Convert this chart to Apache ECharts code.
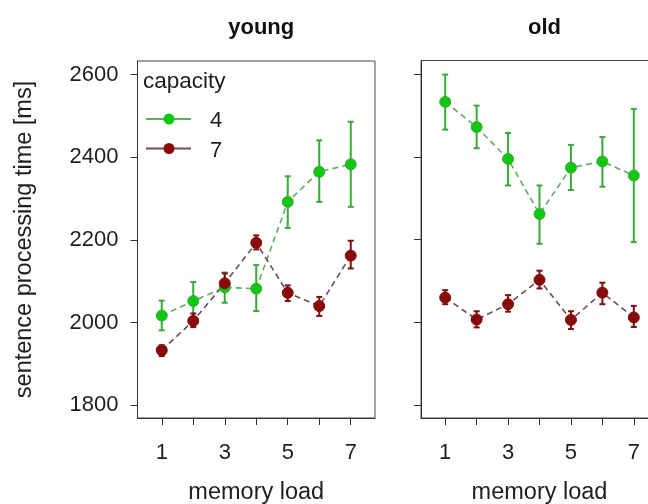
<!DOCTYPE html>
<html><head><meta charset="utf-8">
<script src="https://cdn.jsdelivr.net/npm/echarts@6/dist/echarts.min.js"></script>
<style>html,body{margin:0;padding:0;background:#fff}#c{width:648px;height:504px}</style>
</head><body><div id="c"></div>
<script>
const memoryLoad = [1, 2, 3, 4, 5, 6, 7];
const xTickLabels = [1, 3, 5, 7];
const yTicks = [1800, 2000, 2200, 2400, 2600];
const panels = ['young', 'old'];
const capacities = ['4', '7'];

const young4   = [2017, 2052, 2085, 2082, 2292, 2365, 2383];
const young4Lo = [1981, 2007, 2048, 2028, 2229, 2292, 2280];
const young4Hi = [2053, 2098, 2121, 2139, 2354, 2441, 2486];
const young7   = [1933, 2004, 2095, 2193, 2072, 2040, 2162];
const young7Lo = [1919, 1989, 2078, 2177, 2052, 2016, 2131];
const young7Hi = [1945, 2022, 2119, 2211, 2090, 2062, 2198];

const old4   = [2533, 2472, 2395, 2262, 2374, 2389, 2355];
const old4Lo = [2466, 2421, 2331, 2190, 2320, 2328, 2194];
const old4Hi = [2599, 2524, 2458, 2331, 2429, 2448, 2516];
const old7   = [2060, 2007, 2044, 2103, 2006, 2072, 2012];
const old7Lo = [2044, 1988, 2026, 2082, 1984, 2044, 1989];
const old7Hi = [2078, 2027, 2066, 2125, 2027, 2096, 2040];

const FONT = "'Liberation Sans', Arial, sans-serif";
const TXT = '#1e1e1e';
const colors = {
  '4': {marker: '#10c810', line: '#5fae5f', err: '#3aa83a'},
  '7': {marker: '#8a0a0a', line: '#6e4c56', err: '#7a1010'}
};

const chart = echarts.init(document.getElementById('c'), null, {renderer: 'canvas'});

const grids = [
  {left: 137.5, top: 61, width: 237.5, height: 357},
  {left: 421, top: 60.5, width: 237, height: 357.5}
];

function xAxis(i) {
  return {
    type: 'value', gridIndex: i, min: 0.23, max: 7.77,
    name: 'memory load', nameLocation: 'middle', nameGap: 63,
    nameTextStyle: {fontFamily: FONT, fontSize: 23.5, color: TXT},
    axisLine: {show: true, onZero: false, lineStyle: {color: '#333', width: 1}},
    axisTick: {show: true, inside: false, length: 7, customValues: memoryLoad, lineStyle: {color: '#333', width: 1}},
    axisLabel: {show: true, margin: 24, customValues: xTickLabels, fontFamily: FONT, fontSize: 22, color: TXT},
    splitLine: {show: false}
  };
}
function yAxis(i) {
  return {
    type: 'value', gridIndex: i, min: 1769, max: 2633,
    name: i === 0 ? 'sentence processing time [ms]' : '',
    nameLocation: 'middle', nameGap: 101,
    nameTextStyle: {fontFamily: FONT, fontSize: 23.5, color: TXT},
    axisLine: {show: true, onZero: false, lineStyle: {color: '#333', width: 1}},
    axisTick: {show: true, inside: false, length: 7, customValues: yTicks, lineStyle: {color: '#333', width: 1}},
    axisLabel: {show: i === 0, margin: 19, customValues: yTicks, fontFamily: FONT, fontSize: 22, color: TXT,
      formatter: v => String(v)},
    splitLine: {show: false}
  };
}

function pairs(ys) { return memoryLoad.map((x, k) => [x, ys[k]]); }
function errData(lo, hi) { return memoryLoad.map((x, k) => [x, lo[k], hi[k]]); }

function errSeries(gi, lo, hi, color) {
  return {
    type: 'custom', xAxisIndex: gi, yAxisIndex: gi, z: 2,
    data: errData(lo, hi),
    renderItem: function (params, api) {
      const p1 = api.coord([api.value(0), api.value(1)]);
      const p2 = api.coord([api.value(0), api.value(2)]);
      const w = 3;
      const st = {stroke: color, lineWidth: 2};
      return {type: 'group', children: [
        {type: 'line', shape: {x1: p1[0], y1: p1[1], x2: p2[0], y2: p2[1]}, style: st},
        {type: 'line', shape: {x1: p1[0] - w, y1: p1[1], x2: p1[0] + w, y2: p1[1]}, style: st},
        {type: 'line', shape: {x1: p2[0] - w, y1: p2[1], x2: p2[0] + w, y2: p2[1]}, style: st}
      ]};
    }
  };
}
function lineSeries(gi, name, ys) {
  const c = colors[name];
  return {
    type: 'line', name: name, xAxisIndex: gi, yAxisIndex: gi, z: 3,
    data: pairs(ys), symbol: 'circle', symbolSize: 11,
    itemStyle: {color: c.marker, borderColor: c.err, borderWidth: 1},
    lineStyle: {color: c.line, width: 1.6, type: [6, 4]},
    animation: false
  };
}

const series = [
  errSeries(0, young4Lo, young4Hi, colors['4'].err), lineSeries(0, '4', young4),
  errSeries(0, young7Lo, young7Hi, colors['7'].err), lineSeries(0, '7', young7),
  errSeries(1, old4Lo, old4Hi, colors['4'].err), lineSeries(1, '4', old4),
  errSeries(1, old7Lo, old7Hi, colors['7'].err), lineSeries(1, '7', old7)
];

const legendGraphics = [
  {type: 'text', left: 143, top: 70, style: {text: 'capacity', font: '22.5px ' + FONT, fill: TXT}}
];
capacities.forEach((cap, k) => {
  const y = 119 + k * 29.5;
  legendGraphics.push(
    {type: 'line', shape: {x1: 146, y1: y, x2: 191, y2: y}, style: {stroke: colors[cap].line, lineWidth: 2}},
    {type: 'circle', shape: {cx: 169, cy: y, r: 5.5}, style: {fill: colors[cap].marker}},
    {type: 'text', x: 216, y: y + 2, style: {text: cap, font: '22px ' + FONT, fill: TXT, align: 'center', verticalAlign: 'middle'}}
  );
});

chart.setOption({
  animation: false,
  backgroundColor: '#fff',
  title: panels.map((p, i) => ({
    text: p, left: grids[i].left + grids[i].width / 2, top: 12, textAlign: 'center',
    textStyle: {fontFamily: FONT, fontSize: 22, fontWeight: 'bold', color: '#111'}
  })),
  grid: grids.map(g => Object.assign({show: true, borderColor: '#444', borderWidth: 1, backgroundColor: 'transparent',
    containLabel: false, outerBoundsMode: 'none'}, g)),
  xAxis: [xAxis(0), xAxis(1)],
  yAxis: [yAxis(0), yAxis(1)],
  series: series,
  graphic: legendGraphics
});
</script></body></html>
